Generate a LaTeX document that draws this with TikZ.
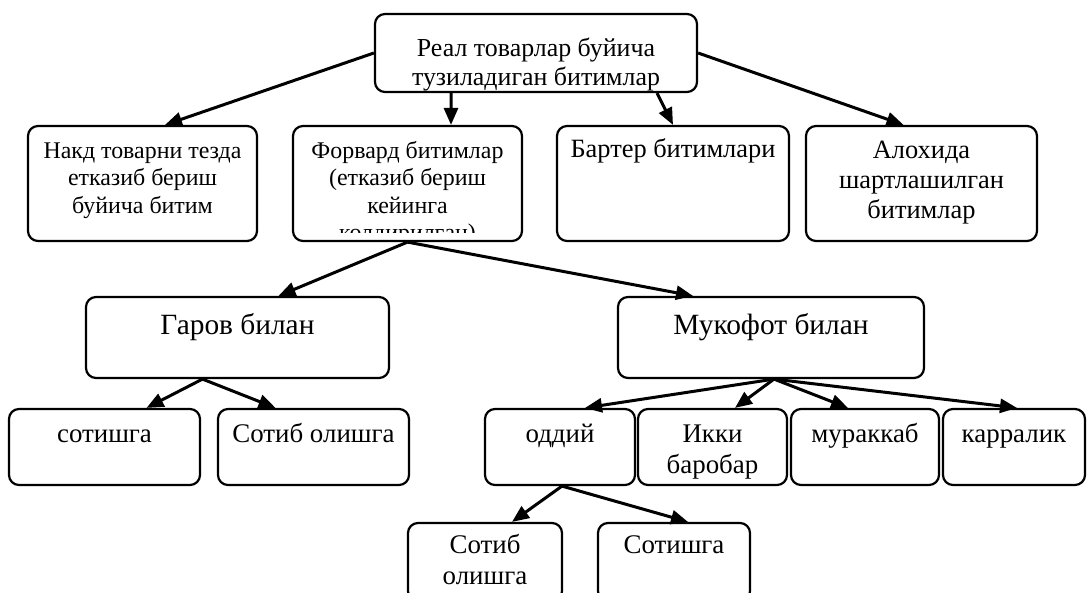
\documentclass[tikz,border=0pt]{standalone}
\usepackage{fontspec}
\setmainfont{Liberation Serif}
\usepackage{tikz}
\usetikzlibrary{arrows.meta}
\definecolor{ink}{HTML}{000000}
\tikzset{
  box/.style={draw=ink, line width=2.2bp, rounded corners=10bp, inner sep=0pt},
  lab/.style={text=ink, anchor=base, align=center, inner sep=0pt},
  labr/.style={lab, font=\fontsize{26}{29.5}\selectfont},
  labm/.style={lab, font=\fontsize{24}{27.6}\selectfont},
  labw/.style={lab, font=\fontsize{26.5}{30.5}\selectfont},
  labb/.style={lab, font=\fontsize{29.5}{34}\selectfont},
  labs/.style={lab, font=\fontsize{27}{31}\selectfont},
  link/.style={draw=ink, line width=3bp, -{Triangle[length=17bp,width=14bp]}},
}
\begin{document}
\begin{tikzpicture}[x=1bp, y=-1bp]
\useasboundingbox (0,0) rectangle (1087,593);
% boxes
\node[box, minimum width=322bp, minimum height=78bp] (root) at (536,53) {};
\node[box, minimum width=229bp, minimum height=115bp] (nakd) at (142.5,183.5) {};
\node[box, minimum width=229bp, minimum height=115bp] (form) at (407.5,183.5) {};
\node[box, minimum width=232bp, minimum height=115bp] (bart) at (673,183.5) {};
\node[box, minimum width=231bp, minimum height=115bp] (aloh) at (921.5,183.5) {};
\node[box, minimum width=303bp, minimum height=81bp] (garov) at (237.5,337.5) {};
\node[box, minimum width=306bp, minimum height=81bp] (muk) at (771,337.5) {};
\node[box, minimum width=191bp, minimum height=76bp] (sot) at (104.5,447) {};
\node[box, minimum width=191bp, minimum height=76bp] (sotib) at (313.5,447) {};
\node[box, minimum width=150bp, minimum height=76bp] (oddiy) at (560,447) {};
\node[box, minimum width=149bp, minimum height=76bp] (ikki) at (712.5,447) {};
\node[box, minimum width=148bp, minimum height=76bp] (murak) at (865,447) {};
\node[box, minimum width=142bp, minimum height=76bp] (karr) at (1014,447) {};
\node[box, minimum width=154bp, minimum height=78bp] (osotib) at (485,562) {};
\node[box, minimum width=152bp, minimum height=78bp] (osot) at (674,562) {};
% texts (base = last line)
\node[labr] (rootT) at (536,85.5) {Реал товарлар буйича\\тузиладиган битимлар};
\node[labm] (nakdT) at (142.5,213.2) {Накд товарни тезда\\етказиб бериш\\буйича битим};
\begin{scope}
  \clip (293,126) rectangle (522,233);
  \node[labm] (formT) at (407.5,240.8) {Форвард битимлар\\(етказиб бериш\\кейинга\\колдирилган)};
\end{scope}
\node[labw] (bartT) at (673,158) {Бартер битимлари};
\node[labw] (alohT) at (921.5,219) {Алохида\\шартлашилган\\битимлар};
\node[labb] (garovT) at (237.5,334) {Гаров билан};
\node[labb] (mukT) at (771,334) {Мукофот билан};
\node[labs] (sotT) at (104.5,442) {сотишга};
\node[labs] (sotibT) at (313.5,442) {Сотиб олишга};
\node[labs] (oddiyT) at (560,442) {оддий};
\node[labs] (ikkiT) at (712.5,473) {Икки\\баробар};
\node[labs] (murakT) at (865,442) {мураккаб};
\node[labs] (karrT) at (1014,442) {карралик};
\node[labs] (osotibT) at (485,584) {Сотиб\\олишга};
\node[labs] (osotT) at (674,553) {Сотишга};
% arrows
\draw[link] (root.west) -- ([xshift=22.5bp]nakd.north);
\draw[link] ([xshift=-85bp]root.south) -- ([xshift=43.5bp]form.north);
\draw[link] ([xshift=121bp]root.south) -- (bart.north);
\draw[link] (root.east) -- ([xshift=-18bp]aloh.north);
\draw[link] (form.south) -- ([xshift=41bp]garov.north);
\draw[link] (form.south) -- ([xshift=-78bp]muk.north);
\draw[link] ([xshift=-35bp]garov.south) -- ([xshift=42bp]sot.north);
\draw[link] ([xshift=-35bp]garov.south) -- ([xshift=-38bp]sotib.north);
\draw[link] ([xshift=3bp]muk.south) -- ([xshift=25bp]oddiy.north);
\draw[link] ([xshift=3bp]muk.south) -- ([xshift=22.5bp]ikki.north);
\draw[link] ([xshift=3bp]muk.south) -- ([xshift=-17bp]murak.north);
\draw[link] ([xshift=3bp]muk.south) -- ([xshift=3bp]karr.north);
\draw[link] ([xshift=2bp]oddiy.south) -- ([xshift=27bp]osotib.north);
\draw[link] ([xshift=2bp]oddiy.south) -- ([xshift=14bp]osot.north);
\end{tikzpicture}
\end{document}
